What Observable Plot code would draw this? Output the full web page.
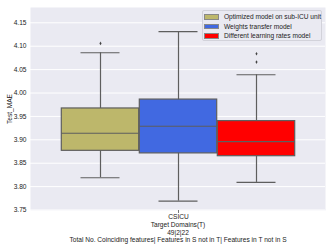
<!DOCTYPE html>
<html><head><meta charset="utf-8">
<script src="https://cdn.jsdelivr.net/npm/d3@7"></script>
<script src="https://cdn.jsdelivr.net/npm/@observablehq/plot@0.6"></script>
<style>
html,body{margin:0;padding:0;background:#fff;}
#wrap{position:relative;width:332px;height:249px;font-family:"Liberation Sans",Arial,sans-serif;}
#wrap svg{display:block;}
#legend{position:absolute;left:202px;top:10px;width:120px;height:31px;background:#eaeaf2;border:1px solid #d2d2da;border-radius:2px;box-sizing:border-box;font-size:6.6px;color:#222;padding:1px 0 0 0;}
.row{display:flex;align-items:center;height:9.5px;white-space:nowrap;}
.sw{width:15px;height:5.5px;margin:0 5px 0 1px;box-sizing:border-box;border:0.5px solid #888;}
</style></head>
<body><div id="wrap"><div id="legend"></div></div>
<script>
const sites = ["CSICU"];
const models = ["Optimized model on sub-ICU unit", "Weights transfer model", "Different learning rates model"];
const colors = ["#bdb76b", "#4169e1", "#ff0000"];
const whiskerLow = [3.819, 3.769, 3.809];
const q1 = [3.8765, 3.871, 3.865];
const median = [3.914, 3.929, 3.896];
const q3 = [3.967, 3.986, 3.940];
const whiskerHigh = [4.086, 4.131, 4.039];
const outlierModel = [models[0], models[2], models[2]];
const outlierValue = [4.106, 4.084, 4.066];
const yTicks = [3.75, 3.80, 3.85, 3.90, 3.95, 4.00, 4.05, 4.10, 4.15];
const xLabelLines = ["Target Domains(T)", "49|2|22", "Total No. Coinciding features| Features in S not in T| Features in T not in S"];

const rows = models.map((m, i) => ({model: m, lo: whiskerLow[i], q1: q1[i], med: median[i], q3: q3[i], hi: whiskerHigh[i]}));
const caps = rows.flatMap(r => [{model: r.model, v: r.lo}, {model: r.model, v: r.hi}]);
const outliers = outlierModel.map((m, i) => ({model: m, v: outlierValue[i]}));

const lineColor = "#5e5e5e";
const chart = Plot.plot({
  width: 332, height: 249,
  marginLeft: 30, marginRight: 7, marginTop: 7, marginBottom: 39,
  style: {fontSize: "6.6px", fontFamily: "Liberation Sans, Arial, sans-serif", color: "#222", background: "transparent"},
  x: {domain: models, paddingInner: 0, paddingOuter: 0.375, axis: null},
  y: {domain: [3.749, 4.1827], axis: null},
  color: {domain: models, range: colors},
  marks: [
    Plot.frame({fill: "#eaeaf2", stroke: null}),
    Plot.gridY(yTicks, {stroke: "white", strokeOpacity: 1, strokeWidth: 1}),
    Plot.axisY({ticks: yTicks, tickFormat: ".2f", tickSize: 0, tickPadding: 4, label: "Test_MAE", labelAnchor: "center", labelOffset: 23, labelArrow: "none"}),
    Plot.axisX({ticks: [models[1]], tickFormat: () => sites[0], tickSize: 3, tickPadding: 0.5, stroke: "#777", label: null}),
    Plot.text([xLabelLines.join("\n")], {frameAnchor: "bottom", lineAnchor: "top", lineHeight: 1.17, dy: 11, fill: "#222"}),
    Plot.ruleX(rows, {x: "model", y1: "lo", y2: "hi", stroke: lineColor, strokeWidth: 1.2}),
    Plot.tickY(caps, {x: "model", y: "v", stroke: lineColor, strokeWidth: 1.2, insetLeft: 19.5, insetRight: 19.5}),
    Plot.barY(rows, {x: "model", y1: "q1", y2: "q3", fill: "model", stroke: lineColor, strokeWidth: 1.2, insetLeft: 0.3, insetRight: 0.3}),
    Plot.tickY(rows, {x: "model", y: "med", stroke: lineColor, strokeWidth: 1.2, insetLeft: 0.3, insetRight: 0.3}),
    Plot.dot(outliers, {x: "model", y: "v", r: 1.1, fill: "#444", stroke: null, symbol: "diamond"})
  ]
});
const wrap = document.getElementById("wrap");
wrap.insertBefore(chart, wrap.firstChild);
const legend = document.getElementById("legend");
models.forEach((m, i) => {
  const row = document.createElement("div");
  row.className = "row";
  const sw = document.createElement("span");
  sw.className = "sw";
  sw.style.background = colors[i];
  const t = document.createElement("span");
  t.textContent = m;
  row.appendChild(sw); row.appendChild(t);
  legend.appendChild(row);
});
</script>
</body></html>
